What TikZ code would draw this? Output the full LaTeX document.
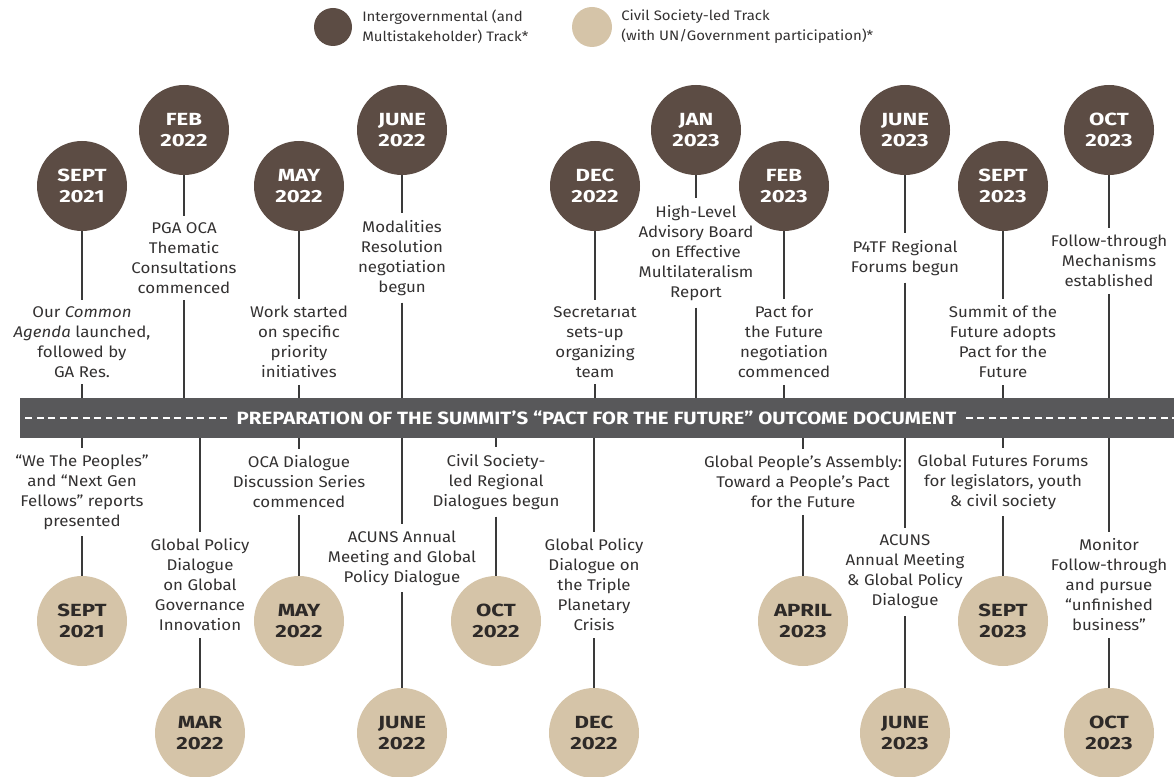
\documentclass[tikz,border=0pt]{standalone}
\usepackage{fontspec}
\setmainfont{Fira Sans}[FakeStretch=1.09]
\newfontfamily\datefont{Fira Sans}[FakeStretch=1.26]
\newfontfamily\bannerfont{Fira Sans}[FakeStretch=1.15]
\definecolor{darkc}{HTML}{5C4C44}
\definecolor{lightc}{HTML}{D5C4A8}
\definecolor{bannerc}{HTML}{58585A}
\definecolor{txt}{HTML}{333131}
\definecolor{labc}{HTML}{2E2A28}
\definecolor{linec}{HTML}{3A3A3A}
\begin{document}
\begin{tikzpicture}[x=0.75pt,y=-0.75pt,
  datebase/.style={circle,minimum size=67.5pt,inner sep=0pt,align=center,font=\datefont\bfseries\fontsize{13.2}{15.75}\selectfont},
  igc/.style={datebase,fill=darkc,text=white},
  csc/.style={datebase,fill=lightc,text=labc},
  desc/.style={align=center,text=txt,font=\fontsize{11.6}{15}\selectfont,inner xsep=2pt,inner ysep=5pt},
  conn/.style={draw=linec,line width=0.8pt},
  legtext/.style={align=left,anchor=west,text=txt,inner sep=0pt,font=\fontsize{10.3}{15}\selectfont}]
\useasboundingbox (0,0) rectangle (1174,777);
% legend
\node[circle,fill=darkc,minimum size=28.5pt,inner sep=0pt] (lg1) at (333,27) {};
\node[legtext] (lt1) at (362,27) {Intergovernmental (and\\Multistakeholder) Track*};
\node[circle,fill=lightc,minimum size=30pt,inner sep=0pt] (lg2) at (592,27) {};
\node[legtext] (lt2) at (621,27) {Civil Society-led Track\\(with UN/Government participation)*};
% banner
\node[fill=bannerc,minimum width=865.5pt,minimum height=30pt,inner sep=0pt,anchor=west] (bar) at (20,418) {};
\node[text=white,font=\bannerfont\bfseries\fontsize{13.3}{15}\selectfont,inner xsep=7pt] (bt) at (596.5,418) {PREPARATION OF THE SUMMIT’S “PACT FOR THE FUTURE” OUTCOME DOCUMENT};
\draw[white,line width=0.9pt,dash pattern=on 5.2pt off 3.4pt] (bt.west) -- (22,418);
\draw[white,line width=0.9pt,dash pattern=on 5.2pt off 3.4pt] (bt.east) -- (1174,418);
% top track
\node[igc] (t1) at (82,186) {SEPT\\2021};
\node[igc] (t2) at (184,130) {FEB\\2022};
\node[igc] (t3) at (299,186) {MAY\\2022};
\node[igc] (t4) at (402,130) {JUNE\\2022};
\node[igc] (t5) at (595,186) {DEC\\2022};
\node[igc] (t6) at (696,130) {JAN\\2023};
\node[igc] (t7) at (784,186) {FEB\\2023};
\node[igc] (t8) at (905,130) {JUNE\\2023};
\node[igc] (t9) at (1003,186) {SEPT\\2023};
\node[igc] (t10) at (1109,130) {OCT\\2023};
\node[desc] (d1) at (82,342) {Our \textit{Common}\\\textit{Agenda} launched,\\followed by\\GA Res.};
\node[desc] (d2) at (184,258) {PGA OCA\\Thematic\\Consultations\\commenced};
\node[desc] (d3) at (299,342) {Work started\\on specific\\priority\\initiatives};
\node[desc] (d4) at (402,258) {Modalities\\Resolution\\negotiation\\begun};
\node[desc] (d5) at (595,342) {Secretarıat\\sets-up\\organizing\\team};
\node[desc] (d6) at (696,253) {High-Level\\Advisory Board\\on Effective\\Multilateralism\\Report};
\node[desc] (d7) at (784,342) {Pact for\\the Future\\negotiation\\commenced};
\node[desc] (d8) at (905,258) {P4TF Regional\\Forums begun};
\node[desc] (d9) at (1003,342) {Summit of the\\Future adopts\\Pact for the\\Future};
\node[desc] (d10) at (1109,261) {Follow-through\\Mechanisms\\established};
\foreach \i in {1,...,10}{
  \draw[conn] (t\i) -- (d\i);
  \draw[conn] (d\i) -- (d\i |- bar.north);
}
% bottom track
\node[csc] (b1) at (82,621) {SEPT\\2021};
\node[csc] (b2) at (200,733) {MAR\\2022};
\node[csc] (b3) at (299,621) {MAY\\2022};
\node[csc] (b4) at (402,733) {JUNE\\2022};
\node[csc] (b5) at (496,621) {OCT\\2022};
\node[csc] (b6) at (594,733) {DEC\\2022};
\node[csc] (b7) at (803,621) {APRIL\\2023};
\node[csc] (b8) at (905,733) {JUNE\\2023};
\node[csc] (b9) at (1003,621) {SEPT\\2023};
\node[csc] (b10) at (1109,733) {OCT\\2023};
\node[desc] (e1) at (82,492) {“We The Peoples”\\and “Next Gen\\Fellows” reports\\presented};
\node[desc] (e2) at (200,585) {Global Policy\\Dialogue\\on Global\\Governance\\Innovation};
\node[desc] (e3) at (299,482) {OCA Dialogue\\Discussion Series\\commenced};
\node[desc] (e4) at (402,558) {ACUNS Annual\\Meeting and Global\\Policy Dialogue};
\node[desc] (e5) at (496,482) {Civil Society-\\led Regional\\Dialogues begun};
\node[desc] (e6) at (594,585) {Global Policy\\Dialogue on\\the Triple\\Planetary\\Crisis};
\node[desc] (e7) at (803,482) {Global People’s Assembly:\\Toward a People’s Pact\\for the Future};
\node[desc] (e8) at (905,572) {ACUNS\\Annual Meeting\\\& Global Policy\\Dialogue};
\node[desc] (e9) at (1003,482) {Global Futures Forums\\for legislators, youth\\\& civil society};
\node[desc] (e10) at (1109,585) {Monitor\\Follow-through\\and pursue\\“unfinished\\business”};
\foreach \i in {1,...,10}{
  \draw[conn] (e\i |- bar.south) -- (e\i);
  \draw[conn] (e\i) -- (b\i);
}
\end{tikzpicture}
\end{document}
